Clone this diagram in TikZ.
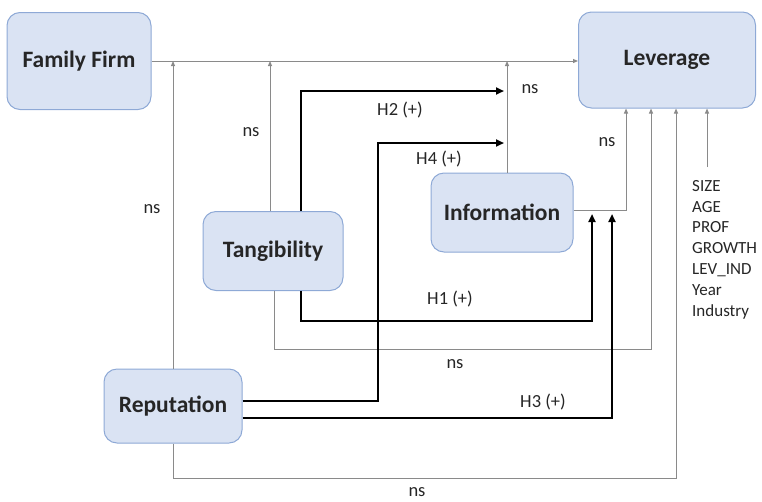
\documentclass[tikz,border=0pt]{standalone}
\usepackage{fontspec}
\setmainfont{Carlito}
\usetikzlibrary{arrows.meta,calc}
\definecolor{boxfill}{HTML}{DAE3F3}
\definecolor{boxline}{HTML}{8EA9D6}
\definecolor{thinline}{HTML}{8A8A8A}
\tikzset{
  varbox/.style={draw=boxline, fill=boxfill, rounded corners=13pt, line width=1pt,
    font=\fontsize{23.5}{26}\selectfont\bfseries, text=black!85, inner sep=0pt},
  thinarrow/.style={draw=thinline, line width=1pt, -{Triangle[length=5pt,width=4pt]}},
  thickarrow/.style={draw=black, line width=2.8pt, -{Triangle[length=8pt,width=7pt]}},
  lbl/.style={font=\fontsize{18.5}{20}\selectfont, text=black!85, inner sep=0pt}
}
\begin{document}
\begin{tikzpicture}[x=1pt,y=-1pt]
\useasboundingbox (0,0) rectangle (762,501);
% nodes
\node[varbox, minimum width=144pt, minimum height=97pt] (ff) at (79,61) {Family Firm};
\node[varbox, minimum width=177pt, minimum height=96pt] (lev) at (667,60) {Leverage};
\node[varbox, minimum width=140pt, minimum height=79pt] (tan) at (273,251) {Tangibility};
\node[varbox, minimum width=142pt, minimum height=79pt] (inf) at (502,212.5) {Information};
\node[varbox, minimum width=138pt, minimum height=74pt] (rep) at (173,406) {Reputation};
% free-end coordinates
\coordinate (h2end) at (504,91);
\coordinate (h4c) at (378,143);
\coordinate (h4end) at (504,143);
\coordinate (h1c) at (592,321);
\coordinate (h1end) at (592,214);
\coordinate (h3end) at (612,214);
\coordinate (ctrl) at (707,167);
% thin connectors
\draw[thinarrow] (ff.east |- 0,61) -- (lev.west |- 0,61);
\draw[thinarrow] (rep.north) -- (rep.north |- 0,61);
\draw[thinarrow] ([xshift=-3pt]tan.north) -- ([xshift=-3pt]tan.north |- 0,61);
\draw[thinarrow] ([xshift=5pt]inf.north) -- ([xshift=5pt]inf.north |- 0,61);
\draw[thinarrow] (inf.east |- 0,210) -| ([xshift=-41pt]lev.south);
\draw[thinarrow] ([xshift=1pt]tan.south) -- ++(0,58.5) -| ([xshift=-16pt]lev.south);
\draw[thinarrow] (rep.south) -- ++(0,35) -| ([xshift=9pt]lev.south);
\draw[thinarrow] (ctrl) -- ([xshift=40pt]lev.south);
% thick connectors
\draw[thickarrow] ([xshift=28pt]tan.north) |- (h2end);
\draw[thickarrow] ([yshift=5pt]rep.east) -| (h4c) -- (h4end);
\draw[thickarrow] ([xshift=28pt]tan.south) |- (h1c) -- (h1end);
\draw[thickarrow] ([yshift=-12pt]rep.east) -| (h3end);
% labels
\node[lbl] (l1) at (152,209) {ns};
\node[lbl] (l2) at (251,132) {ns};
\node[lbl] (l3) at (400,110) {H2 (+)};
\node[lbl] (l4) at (530,89) {ns};
\node[lbl] (l5) at (439,159) {H4 (+)};
\node[lbl] (l6) at (607,142) {ns};
\node[lbl] (l7) at (450,299) {H1 (+)};
\node[lbl] (l8) at (455,364) {ns};
\node[lbl] (l9) at (543,402) {H3 (+)};
\node[lbl] (l10) at (417,492) {ns};
\node[lbl, anchor=north west, align=left, font=\fontsize{17}{20.8}\selectfont] (ctl) at (692,180)
  {SIZE\\AGE\\PROF\\GROWTH\\LEV\_IND\\Year\\Industry};
\end{tikzpicture}
\end{document}
